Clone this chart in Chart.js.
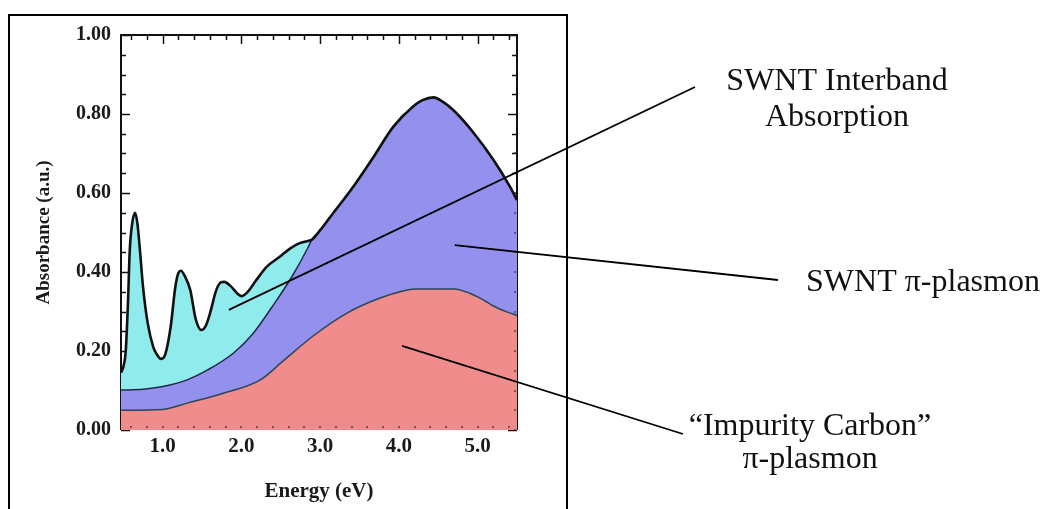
<!DOCTYPE html>
<html><head><meta charset="utf-8">
<script src="https://cdn.jsdelivr.net/npm/chart.js@4.4.1/dist/chart.umd.min.js"></script>
<style>
html,body{margin:0;padding:0;background:#fff;}
#wrap{position:relative;width:1043px;height:509px;overflow:hidden;background:#fff;}
#frame{position:absolute;left:8px;top:14px;width:560px;height:600px;border:2px solid #000;box-sizing:border-box;}
canvas{position:absolute;left:0;top:0;}
</style></head><body>
<div id="wrap"><div id="frame"></div><canvas id="c" width="1043" height="509"></canvas></div>
<script>
// ---- tick labels ----
const xTickValues = [1.0, 2.0, 3.0, 4.0, 5.0];
const yTickValues = [0.0, 0.2, 0.4, 0.6, 0.8, 1.0];

// ---- total absorbance (SWNT interband + plasmons), black outlined curve ----
const totalEnergy = [0.47,0.50,0.53,0.56,0.58,0.61,0.65,0.68,0.71,0.75,0.81,0.88,0.93,0.98,1.03,1.10,1.16,1.20,1.23,1.28,1.35,1.42,1.49,1.55,1.60,1.68,1.74,1.78,1.87,1.95,2.00,2.08,2.19,2.32,2.49,2.62,2.74,2.87,2.89,3.00,3.13,3.42,3.68,3.93,4.18,4.30,4.44,4.55,4.69,4.95,5.20,5.41,5.50];
const totalAbs    = [0.145,0.16,0.20,0.33,0.45,0.52,0.55,0.52,0.456,0.362,0.27,0.21,0.19,0.18,0.19,0.26,0.362,0.398,0.403,0.39,0.354,0.28,0.253,0.265,0.295,0.354,0.374,0.375,0.363,0.345,0.339,0.35,0.38,0.413,0.439,0.46,0.473,0.48,0.481,0.506,0.54,0.616,0.692,0.768,0.819,0.835,0.842,0.832,0.81,0.752,0.684,0.616,0.582];

// ---- SWNT pi-plasmon (top of the purple band) ----
const swntEnergy = [0.47,0.75,1.00,1.31,1.57,1.90,2.15,2.39,2.64,2.85,2.89,3.00,3.13,3.42,3.68,3.93,4.18,4.30,4.44,4.55,4.69,4.95,5.20,5.41,5.50];
const swntAbs    = [0.101,0.103,0.11,0.127,0.152,0.195,0.245,0.312,0.388,0.464,0.481,0.506,0.54,0.616,0.692,0.768,0.819,0.835,0.842,0.832,0.81,0.752,0.684,0.616,0.582];

// ---- "Impurity Carbon" pi-plasmon (top of the pink band) ----
const impEnergy = [0.47,1.00,1.31,1.77,2.24,2.53,2.91,3.34,3.76,4.05,4.20,4.70,4.85,5.00,5.10,5.20,5.37,5.50];
const impAbs    = [0.05,0.052,0.068,0.093,0.127,0.175,0.238,0.296,0.334,0.352,0.357,0.357,0.35,0.337,0.326,0.314,0.299,0.29];

const pts = (xs, ys) => xs.map((x, i) => ({x, y: ys[i]}));

const SERIF = "'Liberation Serif','Times New Roman',serif";

const frameTicks = {
  id: 'frameTicks',
  beforeDatasetsDraw(chart) {
    const {ctx, chartArea: a, scales: {x, y}} = chart;
    ctx.save();
    ctx.strokeStyle = '#111';
    ctx.lineWidth = 2;
    ctx.beginPath();
    ctx.moveTo(a.left, a.bottom); ctx.lineTo(a.left, a.top);
    ctx.lineTo(a.right, a.top); ctx.lineTo(a.right, a.bottom);
    ctx.stroke();
    ctx.lineWidth = 1.5;
    ctx.beginPath();
    for (let k = 0; k <= 20; k++) {
      const v = k * 0.05, py = Math.round(y.getPixelForValue(v)) + 0.5;
      const L = (k % 4 === 0) ? 9 : 5;
      ctx.moveTo(a.left, py); ctx.lineTo(a.left + L, py);
      ctx.moveTo(a.right, py); ctx.lineTo(a.right - L, py);
    }
    for (let k = 3; k <= 27; k++) {
      const e = k * 0.2, px = Math.round(x.getPixelForValue(e)) + 0.5;
      if (px <= a.left + 2 || px >= a.right - 2) continue;
      const L = (k % 5 === 0) ? 9 : 5;
      ctx.moveTo(px, a.top); ctx.lineTo(px, a.top + L);
    }
    ctx.stroke();
    ctx.restore();
  },
  afterDatasetsDraw(chart) {
    const {ctx, chartArea: a, scales: {x, y}} = chart;
    ctx.save();
    ctx.fillStyle = 'rgba(40,30,40,0.55)';
    for (let k = 3; k <= 27; k++) {
      const px = x.getPixelForValue(k * 0.2);
      if (px <= a.left + 2 || px >= a.right - 2) continue;
      ctx.fillRect(Math.round(px) - 1, a.bottom - 4, 2, 2);
    }
    for (let k = 0; k <= 14; k++) {
      const py = y.getPixelForValue(k * 0.05);
      ctx.fillRect(a.right - 3, Math.round(py) - 1, 2, 2);
    }
    ctx.restore();
  }
};

const annotations = {
  id: 'annotations',
  afterDraw(chart) {
    const {ctx, scales: {x, y}} = chart;
    ctx.save();
    ctx.strokeStyle = '#000';
    ctx.lineWidth = 1.8;
    const leaders = [
      [1.84, 0.304, 695, 87],
      [4.71, 0.468, 778, 280],
      [4.04, 0.213, 683, 434]
    ];
    ctx.beginPath();
    for (const [e, v, ex, ey] of leaders) {
      ctx.moveTo(x.getPixelForValue(e), y.getPixelForValue(v));
      ctx.lineTo(ex, ey);
    }
    ctx.stroke();
    ctx.fillStyle = '#111';
    ctx.font = "32px " + SERIF;
    ctx.textAlign = 'center';
    ctx.textBaseline = 'alphabetic';
    ctx.fillText('SWNT Interband', 837, 90);
    ctx.fillText('Absorption', 837, 126);
    ctx.fillText('SWNT \u03c0-plasmon', 923, 291);
    ctx.fillText('\u201cImpurity Carbon\u201d', 810, 435);
    ctx.fillText('\u03c0-plasmon', 810, 468);
    ctx.restore();
  }
};

new Chart(document.getElementById('c'), {
  type: 'line',
  data: {
    datasets: [
      { label: 'Total', data: pts(totalEnergy, totalAbs), borderColor: '#111', borderWidth: 2.6,
        fill: false, pointRadius: 0, cubicInterpolationMode: 'monotone' },
      { label: 'Impurity Carbon pi-plasmon', data: pts(impEnergy, impAbs), borderColor: '#2b4656', borderWidth: 1.5,
        backgroundColor: 'rgb(240,140,140)', fill: 'origin', pointRadius: 0, cubicInterpolationMode: 'monotone' },
      { label: 'SWNT pi-plasmon', data: pts(swntEnergy, swntAbs), borderColor: '#1e2a44', borderWidth: 1.5,
        backgroundColor: 'rgb(148,144,238)', fill: 'origin', pointRadius: 0, cubicInterpolationMode: 'monotone' },
      { label: 'SWNT Interband Absorption', data: pts(totalEnergy, totalAbs), borderWidth: 0, borderColor: 'rgba(0,0,0,0)',
        backgroundColor: 'rgb(144,236,236)', fill: 'origin', pointRadius: 0, cubicInterpolationMode: 'monotone' }
    ]
  },
  options: {
    responsive: false,
    animation: false,
    devicePixelRatio: 1,
    layout: { padding: { left: 0, top: 35, right: 526, bottom: 0 } },
    plugins: { legend: { display: false }, tooltip: { enabled: false } },
    scales: {
      x: {
        type: 'linear', min: 0.47, max: 5.5,
        afterBuildTicks: s => { s.ticks = xTickValues.map(v => ({value: v})); },
        afterFit: s => { s.height = 79; },
        grid: { display: false, drawTicks: false },
        border: { display: false },
        ticks: { padding: 4, color: '#1a1a1a', font: { family: SERIF, size: 21, weight: 'bold' },
                 callback: v => Number(v).toFixed(1), maxRotation: 0 },
        title: { display: true, text: 'Energy (eV)', color: '#1a1a1a',
                 font: { family: SERIF, size: 21, weight: 'bold' }, padding: { top: 0, bottom: 5 } }
      },
      y: {
        min: 0, max: 1,
        afterBuildTicks: s => { s.ticks = yTickValues.map(v => ({value: v})); },
        afterFit: s => { s.width = 121; },
        grid: { display: false, drawTicks: false },
        border: { display: false },
        ticks: { padding: 10, color: '#1a1a1a', font: { family: SERIF, size: 20, weight: 'bold' },
                 callback: v => Number(v).toFixed(2) },
        title: { display: true, text: 'Absorbance (a.u.)', color: '#1a1a1a',
                 font: { family: SERIF, size: 19, weight: 'bold' }, padding: { top: 33, bottom: 0 } }
      }
    }
  },
  plugins: [frameTicks, annotations]
});
</script>
</body></html>
